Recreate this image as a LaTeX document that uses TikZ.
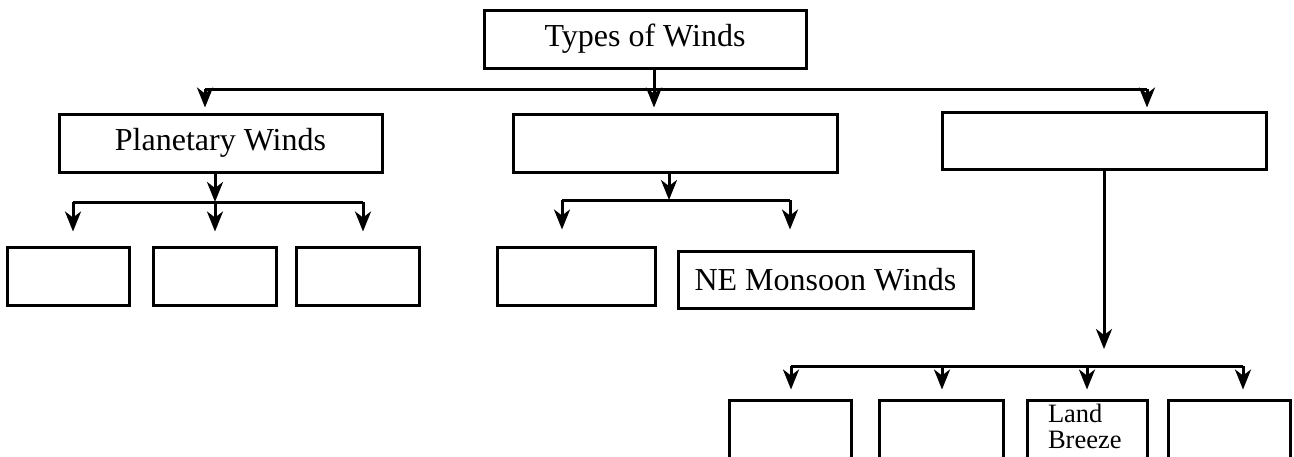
\documentclass[tikz,border=0pt]{standalone}
\usepackage{fontspec}
\setmainfont{Liberation Serif}
\usetikzlibrary{arrows.meta}
\begin{document}
\begin{tikzpicture}[x=1pt,y=-1pt,
  box/.style={draw, line width=3pt, inner sep=0pt, font=\fontsize{32}{36}\selectfont},
  ln/.style={line width=3pt},
  arr/.style={line width=3pt, -{Stealth[length=20pt,width=16pt,inset=6pt]}}]
\useasboundingbox (0,0) rectangle (1294,456);
\clip (0,0) rectangle (1294,456);
% level 0
\node[box, minimum width=322pt, minimum height=58pt] (top) at (645,39) {Types of Winds};
% level 1
\node[box, minimum width=323pt, minimum height=58pt] (pw) at (220.5,143) {Planetary Winds};
\node[box, minimum width=324pt, minimum height=58pt] (mid) at (675,143) {};
\node[box, minimum width=324pt, minimum height=57pt] (rt) at (1104,140.5) {};
% level 2 planetary
\node[box, minimum width=122pt, minimum height=58pt] (p1) at (68,276) {};
\node[box, minimum width=123pt, minimum height=58pt] (p2) at (214.5,276) {};
\node[box, minimum width=123pt, minimum height=58pt] (p3) at (357.5,276) {};
% level 2 middle
\node[box, minimum width=158pt, minimum height=58pt] (m1) at (576,276) {};
\node[box, minimum width=295pt, minimum height=57pt] (ne) at (825.5,279.5) {NE Monsoon Winds};
% level 2 right
\node[box, minimum width=122pt, minimum height=80pt] (b1) at (790,440) {};
\node[box, minimum width=124pt, minimum height=80pt] (b2) at (941,440) {};
\node[box, minimum width=120pt, minimum height=80pt] (b3) at (1087,440)
  {\parbox[t][72pt][t]{78pt}{\fontsize{26.5}{26}\selectfont Land\\Breeze}};
\node[box, minimum width=122pt, minimum height=80pt] (b4) at (1229,440) {};
% connectors from top
\coordinate (j0) at (654,89);
\coordinate (jL) at (205,89);
\coordinate (jR) at (1147,89);
\draw[ln] (top.south -| j0) -- (j0);
\draw[ln] (jL) -- (jR);
\draw[arr, shorten >=5pt] (jL) -- (jL |- pw.north);
\draw[arr, shorten >=5pt] (j0) -- (j0 |- mid.north);
\draw[arr, shorten >=3pt] (jR) -- (jR |- rt.north);
% planetary
\coordinate (ps) at (215,202);
\coordinate (pl) at (73,202);
\coordinate (pr) at (363,202);
\draw[arr] (pw.south -| ps) -- (ps);
\draw[ln] (pl) -- (pr);
\draw[arr, shorten >=14pt] (pl) -- (pl |- p1.north);
\draw[arr, shorten >=14pt] (ps) -- (ps |- p2.north);
\draw[arr, shorten >=14pt] (pr) -- (pr |- p3.north);
% middle
\coordinate (ms) at (669,200);
\coordinate (ml) at (562,200);
\coordinate (mr) at (790,200);
\draw[arr] (mid.south -| ms) -- (ms);
\draw[ln] (ml) -- (mr);
\draw[arr, shorten >=16pt] (ml) -- (ml |- m1.north);
\draw[arr, shorten >=20pt] (mr) -- (mr |- ne.north);
% right
\coordinate (rs) at (1104,349);
\coordinate (r1) at (791,366);
\coordinate (r2) at (942,366);
\coordinate (r3) at (1087,366);
\coordinate (r4) at (1243,366);
\draw[arr] (rt.south -| rs) -- (rs);
\draw[ln] (r1) -- (r4);
\draw[arr, shorten >=9pt] (r1) -- (r1 |- b1.north);
\draw[arr, shorten >=9pt] (r2) -- (r2 |- b2.north);
\draw[arr, shorten >=9pt] (r3) -- (r3 |- b3.north);
\draw[arr, shorten >=9pt] (r4) -- (r4 |- b4.north);
\end{tikzpicture}
\end{document}
